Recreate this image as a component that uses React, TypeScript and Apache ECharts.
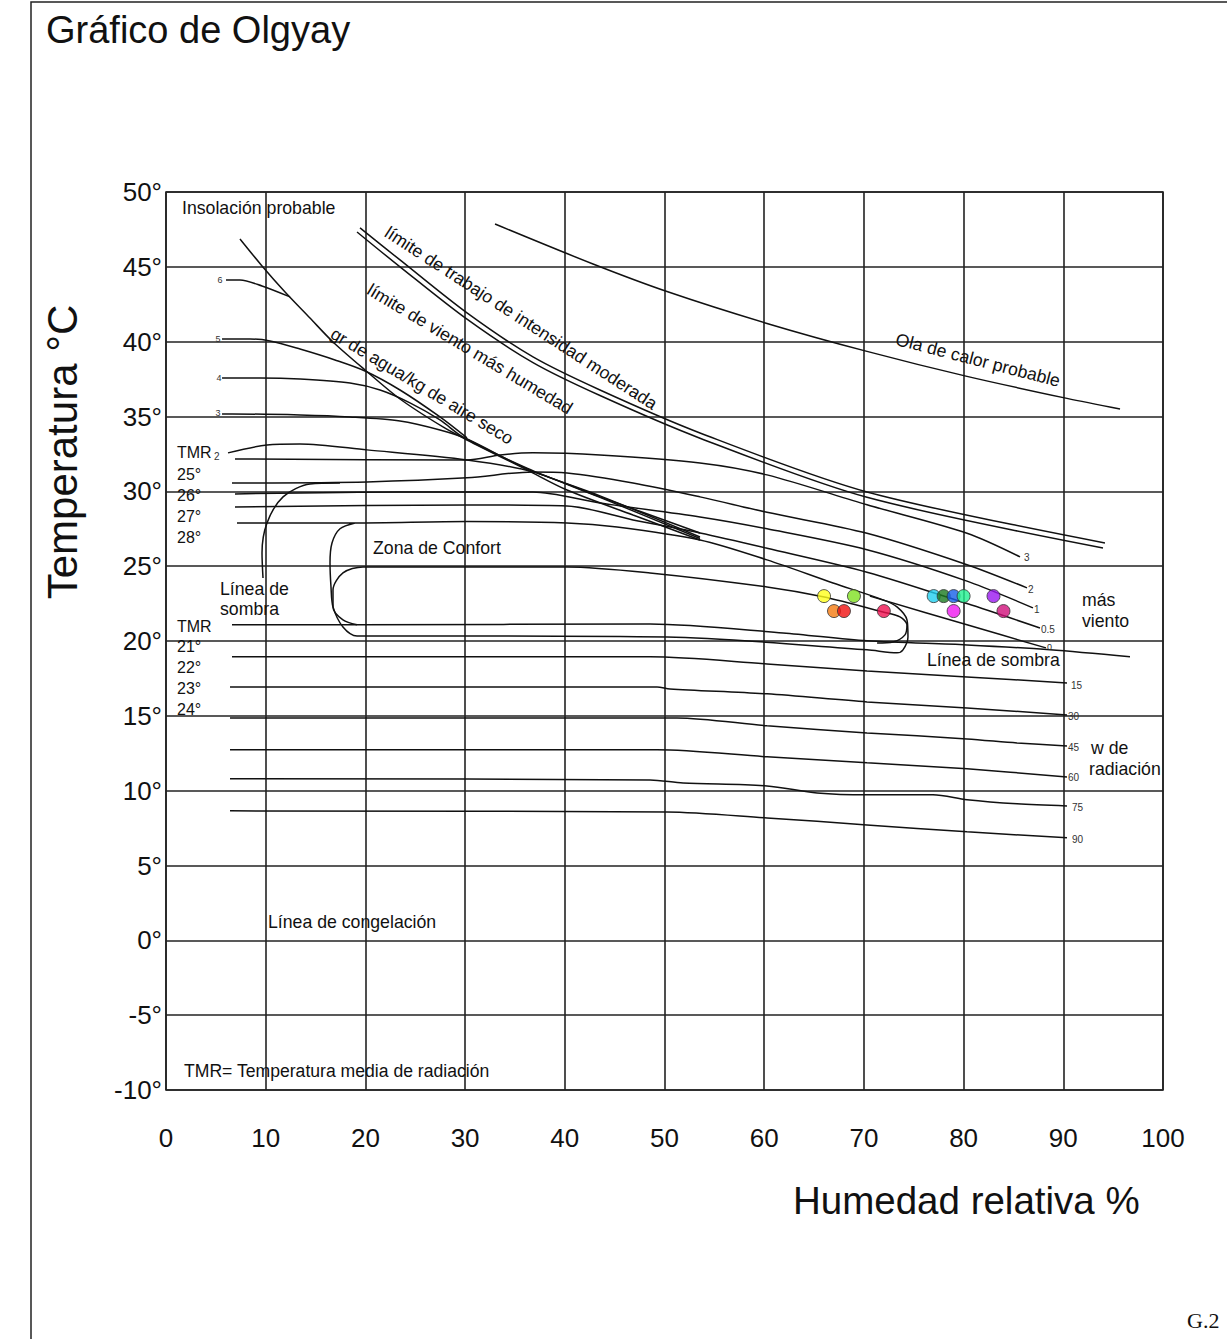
import React, { useEffect, useRef } from "react";
import * as echarts from "echarts";

// ---- axes ----
const humidityMin = 0;
const humidityMax = 100;
const humidityStep = 10;
const temperatureMin = -10;
const temperatureMax = 50;
const temperatureStep = 5;

// ---- curves: [humedad relativa %, temperatura °C] ----
const olaDeCalor = [[33.0, 47.86], [42.83, 45.19], [50.25, 43.35], [60.28, 41.22], [70.31, 39.35], [80.34, 37.68], [90.37, 36.21], [95.69, 35.5]];
const limiteTrabajo = [[19.46, 47.6], [23.47, 45.46], [30.19, 41.92], [36.81, 38.98], [43.53, 36.77], [53.56, 33.9], [70.31, 29.96], [94.18, 26.55]];
const limiteViento = [[19.16, 47.33], [23.47, 45.0], [30.19, 41.5], [36.81, 38.6], [43.53, 36.4], [53.56, 33.55], [70.31, 29.6], [93.98, 26.22]];
const insolacion = [[7.42, 46.86], [9.63, 45.06], [11.94, 43.32], [14.44, 41.58], [16.75, 39.98], [19.96, 38.11], [23.47, 36.17], [27.78, 34.3], [30.19, 33.43], [36.21, 31.43], [40.22, 30.09], [46.84, 28.42], [53.56, 26.75]];
const gr6 = [[6.02, 44.12], [7.42, 44.12], [9.63, 43.72], [12.44, 42.99]];
const gr5 = [[5.62, 40.18], [8.43, 40.18], [10.43, 40.05], [13.44, 39.51], [16.95, 38.78], [19.96, 38.04], [23.47, 36.77], [27.48, 34.97], [30.19, 33.57]];
const gr4 = [[5.62, 37.58], [9.43, 37.58], [13.44, 37.51], [18.46, 37.24], [21.47, 36.77], [24.47, 35.91], [27.48, 34.77], [29.79, 33.63], [36.21, 31.55], [43.53, 29.6], [53.56, 26.85]];
const gr3 = [[5.62, 35.17], [6.62, 35.17], [13.44, 35.1], [18.46, 34.97], [23.47, 34.7], [27.48, 34.1], [30.19, 33.5], [36.21, 31.5], [43.53, 29.7], [53.56, 26.95]];
const gr2 = [[6.22, 32.57], [10.13, 33.1], [13.44, 33.17], [20.16, 32.77], [30.19, 32.1], [36.81, 31.3], [43.53, 29.63], [53.56, 27.22]];
const viento3 = [[6.92, 32.16], [30.19, 32.1], [33.5, 32.43], [36.81, 32.57], [43.53, 32.43], [53.56, 31.9], [60.28, 31.1], [70.31, 29.1], [80.34, 27.2], [85.66, 25.62]];
const viento2 = [[6.62, 30.56], [20.16, 30.63], [30.19, 30.9], [36.81, 31.3], [40.22, 31.23], [46.84, 30.56], [53.56, 29.63], [60.28, 28.6], [70.31, 27.2], [80.34, 25.1], [86.36, 23.55]];
const viento1 = [[6.92, 29.83], [23.47, 29.96], [36.81, 29.96], [43.53, 29.22], [53.56, 28.29], [60.28, 27.5], [70.31, 26.1], [80.34, 24.0], [86.96, 22.21]];
const viento05 = [[6.92, 28.96], [30.19, 29.09], [40.22, 29.02], [46.84, 28.09], [53.56, 27.22], [60.28, 26.2], [70.31, 24.6], [80.34, 22.5], [87.66, 20.87]];
const viento0 = [[70.6, 23.0], [80.34, 21.08], [88.26, 19.54]];
const confortExterior = [[7.12, 27.89], [18.96, 27.89], [30.19, 27.98], [40.22, 27.89], [45.24, 27.62], [53.56, 26.75], [60.28, 25.42], [66.9, 23.88], [71.92, 22.75], [73.32, 22.28], [74.32, 21.41], [74.42, 20.27], [73.92, 19.41], [73.32, 19.21], [70.31, 19.41], [50.25, 20.27], [28.49, 20.34], [19.16, 20.34], [17.75, 20.94], [16.75, 22.28], [16.55, 23.61], [16.45, 25.22], [16.65, 26.55], [17.45, 27.5], [18.96, 27.89]];
const confortInterior = [[19.16, 21.08], [17.75, 21.41], [16.75, 22.28], [16.75, 23.41], [17.75, 24.55], [19.76, 24.95], [40.22, 24.95], [48.55, 24.55], [60.28, 23.61], [65.9, 22.95], [71.92, 21.94], [73.62, 21.61], [74.32, 21.08], [74.12, 20.41], [72.92, 19.94], [71.32, 19.87]];
const lineaSombraInferior = [[6.62, 21.08], [19.16, 21.08], [48.55, 21.14], [61.89, 20.54], [70.31, 20.01], [80.34, 19.74], [88.67, 19.41], [96.69, 18.94]];
const lineaSombraIzquierda = [[9.73, 24.21], [9.63, 25.88], [10.13, 27.89], [11.74, 29.63], [14.44, 30.49], [17.45, 30.56]];
const radiacion15 = [[6.62, 18.94], [48.55, 18.94], [60.28, 18.47], [70.31, 18.0], [80.34, 17.6], [90.37, 17.2]];
const radiacion30 = [[6.42, 16.93], [49.25, 16.93], [50.55, 16.8], [60.28, 16.47], [70.31, 15.93], [80.34, 15.53], [90.37, 15.06]];
const radiacion45 = [[6.42, 14.86], [51.25, 14.86], [60.28, 14.33], [70.31, 13.86], [80.34, 13.46], [85.36, 13.19], [90.37, 12.99]];
const radiacion60 = [[6.42, 12.73], [49.25, 12.73], [60.28, 12.26], [70.31, 11.86], [80.34, 11.46], [90.37, 10.92]];
const radiacion75 = [[6.42, 10.79], [48.55, 10.72], [51.86, 10.52], [60.28, 10.32], [65.3, 9.85], [70.31, 9.72], [76.93, 9.72], [80.34, 9.39], [85.36, 9.12], [90.37, 8.98]];
const radiacion90 = [[6.42, 8.65], [50.25, 8.58], [60.28, 8.18], [70.31, 7.71], [80.34, 7.25], [90.37, 6.85]];

// ---- measured points ----
const dotHumidity = [66, 69, 67, 68, 72, 77, 78, 79, 80, 83, 79, 84];
const dotTemperature = [23, 23, 22, 22, 22, 23, 23, 23, 23, 23, 22, 22];
const dotColors = ["#ffff1a", "#80e020", "#f57a10", "#f01010", "#f01050", "#20d0f0", "#1a7a20", "#1560e8", "#20f090", "#9a18f0", "#f018f0", "#d0107a"];

const curves = [olaDeCalor, limiteTrabajo, limiteViento, insolacion, gr6, gr5, gr4, gr3, gr2, viento3, viento2, viento1, viento05, viento0, confortExterior, confortInterior, lineaSombraInferior, lineaSombraIzquierda, radiacion15, radiacion30, radiacion45, radiacion60, radiacion75, radiacion90];

const FONT = "'Liberation Sans', Arial, sans-serif";

function txt(text: string, x: number, y: number, size: number, extra: any = {}) {
  return {
    type: "text",
    x,
    y,
    rotation: extra.rotation || 0,
    z: 20,
    style: {
      text,
      font: `${size}px ${FONT}`,
      fill: extra.fill || "#111",
      align: extra.align || "left",
      verticalAlign: "middle",
    },
  };
}

export default function App() {
  const ref = useRef<HTMLDivElement>(null);
  useEffect(() => {
    const chart = echarts.init(ref.current!, null, { renderer: "svg" });
    const deg = Math.PI / 180;
    const series: any[] = curves.map((c) => ({
      type: "line",
      data: c,
      showSymbol: false,
      smooth: 0.3,
      silent: true,
      z: 3,
      lineStyle: { color: "#111", width: 1.5 },
    }));
    series.push({
      type: "scatter",
      z: 5,
      symbolSize: 13,
      data: dotHumidity.map((h, i) => ({
        value: [h, dotTemperature[i]],
        itemStyle: { color: dotColors[i], borderColor: "#333", borderWidth: 1 },
      })),
    });
    const small = 10;
    const mid = 16;
    const ann = 17.7;
    chart.setOption({
      animation: false,
      backgroundColor: "#fff",
      grid: { left: 166, right: 64, top: 192, bottom: 249, show: true, borderColor: "#222", borderWidth: 1.6 },
      xAxis: {
        type: "value",
        min: humidityMin,
        max: humidityMax,
        interval: humidityStep,
        axisLine: { show: false },
        axisTick: { show: false },
        splitLine: { show: true, lineStyle: { color: "#222", width: 1.6 } },
        axisLabel: { fontSize: 26, color: "#111", margin: 35, fontFamily: FONT },
      },
      yAxis: {
        type: "value",
        min: temperatureMin,
        max: temperatureMax,
        interval: temperatureStep,
        axisLine: { show: false },
        axisTick: { show: false },
        splitLine: { show: true, lineStyle: { color: "#222", width: 1.6 } },
        axisLabel: { fontSize: 26, color: "#111", margin: 4, fontFamily: FONT, formatter: (v: number) => `${v}°` },
      },
      series,
      graphic: [
        { type: "rect", shape: { x: 31, y: 2, width: 1400, height: 1500 }, style: { fill: "none", stroke: "#222", lineWidth: 1.5 }, z: 1, silent: true },
        txt("Gráfico de Olgyay", 46, 30, 38),
        txt("Temperatura °C", 62, 452, 42, { rotation: Math.PI / 2, align: "center" }),
        txt("Humedad relativa %", 793, 1200, 38.5),
        { type: "text", x: 1187, y: 1320, z: 20, style: { text: "G.2", font: `22px 'Liberation Serif', 'DejaVu Serif', serif`, fill: "#111", verticalAlign: "middle" } },
        txt("Insolación probable", 182, 208, ann),
        txt("límite de trabajo de intensidad moderada", 521, 318, ann, { rotation: -33 * deg, align: "center" }),
        txt("límite de viento más humedad", 470, 349, ann, { rotation: -31 * deg, align: "center" }),
        txt("gr de agua/kg de aire seco", 422, 386, ann, { rotation: -31 * deg, align: "center" }),
        txt("Ola de calor probable", 978, 360, ann, { rotation: -14.5 * deg, align: "center" }),
        txt("Zona de Confort", 373, 548, ann),
        txt("Línea de", 220, 589, ann),
        txt("sombra", 220, 609, ann),
        txt("TMR", 177, 452, mid),
        txt("2", 214, 456, small, { fill: "#333" }),
        txt("25°", 177, 474, mid),
        txt("26°", 177, 495, mid),
        txt("27°", 177, 516, mid),
        txt("28°", 177, 537, mid),
        txt("TMR", 177, 626, mid),
        txt("21°", 177, 646, mid),
        txt("22°", 177, 667, mid),
        txt("23°", 177, 688, mid),
        txt("24°", 177, 709, mid),
        txt("6", 220, 280, 9, { fill: "#333", align: "center" }),
        txt("5", 218, 339, 9, { fill: "#333", align: "center" }),
        txt("4", 219, 378, 9, { fill: "#333", align: "center" }),
        txt("3", 218, 413, 9, { fill: "#333", align: "center" }),
        txt("3", 1024, 557, small, { fill: "#333" }),
        txt("2", 1028, 589, small, { fill: "#333" }),
        txt("1", 1034, 609, small, { fill: "#333" }),
        txt("0.5", 1041, 629, small, { fill: "#333" }),
        txt("0", 1047, 647, 9, { fill: "#333" }),
        txt("15", 1071, 685, small, { fill: "#333" }),
        txt("30", 1068, 716, small, { fill: "#333" }),
        txt("45", 1068, 747, small, { fill: "#333" }),
        txt("60", 1068, 777, small, { fill: "#333" }),
        txt("75", 1072, 807, small, { fill: "#333" }),
        txt("90", 1072, 839, small, { fill: "#333" }),
        txt("más", 1082, 600, ann),
        txt("viento", 1082, 621, ann),
        txt("Línea de sombra", 927, 660, ann),
        txt("w de", 1091, 748, ann),
        txt("radiación", 1089, 769, ann),
        txt("Línea de congelación", 268, 922, ann),
        txt("TMR= Temperatura media de radiación", 184, 1071, 17.6),
      ],
    });
    return () => chart.dispose();
  }, []);
  return <div ref={ref} style={{ position: "absolute", left: 0, top: 0, width: 1227, height: 1339, background: "#fff" }} />;
}
